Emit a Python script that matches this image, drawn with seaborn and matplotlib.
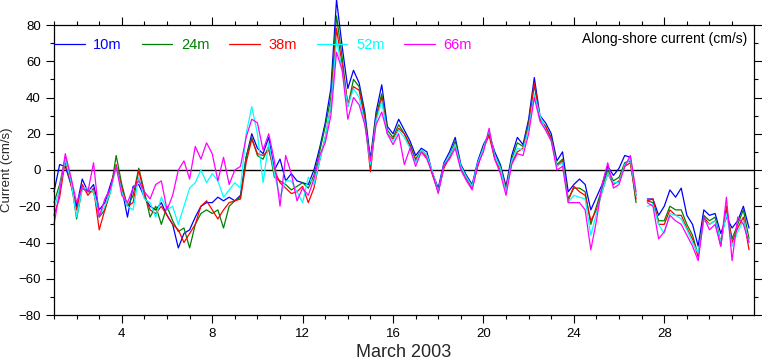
import numpy as np
import pandas as pd
import matplotlib
matplotlib.use("Agg")
import matplotlib.pyplot as plt
from matplotlib.ticker import MultipleLocator
import seaborn as sns

# time axis: day of March 2003, every 6 hours
days = [1 + 0.25 * i for i in range(124)]
N = np.nan

c10m = [-12, 3, 2, -8, -20, -5, -12, -8, -22, -18, -8, 2, -10, -26, -9, -8,
        -15, -20, -22, -18, -25, -30, -43, -35, -33, -26, -20, -18, -18, -15, -17, -15,
        -17, -14, 7, 20, 12, 9, 18, 0, 6, -6, -2, -6, -7, -8, 0, 12,
        26, 45, 94, 68, 45, 55, 48, 32, 6, 32, 47, 24, 20, 28, 22, 16,
        8, 12, 10, -2, -10, 4, 10, 18, 3, -3, -8, 5, 14, 20, 10, 3,
        -9, 8, 18, 14, 28, 51, 30, 26, 20, 5, 10, -12, -8, -5, -8, -22,
        -15, -8, 2, -3, 1, 8, 7, -14, N, -16, -16, -25, -20, -11, -15, -10,
        -25, -30, -42, -22, -25, -24, -35, -26, -32, -28, -20, -32]

c24m = [-18, -8, 7, -5, -27, -10, -12, -12, -26, -22, -12, 8, -8, -20, -14, 1,
        -12, -26, -20, -30, -20, -28, -34, -32, -43, -30, -24, -22, -24, -22, -32, -20,
        -17, -15, 7, 18, 8, 6, 13, -4, -6, -8, -11, -9, -7, -10, -3, 10,
        24, 40, 85, 62, 35, 50, 46, 30, 4, 30, 42, 22, 18, 25, 20, 14,
        6, 11, 8, -2, -12, 2, 8, 16, 2, -4, -9, 3, 13, 20, 8, 2,
        -11, 6, 15, 13, 26, 47, 28, 24, 18, 3, 6, -16, -10, -10, -12, -30,
        -20, -10, 0, -6, -4, 4, 5, -18, N, -17, -18, -28, -28, -20, -22, -22,
        -30, -36, -47, -25, -28, -26, -40, -22, -38, -30, -22, -38]

c38m = [-25, -15, 5, -8, -22, -8, -14, -10, -33, -22, -10, 3, -10, -20, -18, 0,
        -14, -22, -24, -20, -25, -30, -33, -40, -35, -30, -20, -17, -22, -27, -22, -18,
        -17, -16, 4, 17, 9, 8, 11, 0, -7, -10, -13, -12, -9, -18, -10, 5,
        18, 35, 78, 58, 36, 46, 44, 28, -1, 28, 40, 20, 17, 23, 20, 13,
        5, 10, 7, -3, -12, 1, 7, 14, 1, -5, -10, 2, 12, 19, 6, 0,
        -10, 4, 10, 12, 24, 48, 28, 24, 17, 2, 5, -17, -9, -12, -14, -28,
        -22, -12, -2, -8, -6, 2, 4, -16, N, -17, -16, -30, -30, -22, -25, -25,
        -32, -38, -48, -26, -30, -28, -42, -20, -40, -32, -26, -44]

c52m = [-22, -10, 6, -6, -26, -10, -10, -12, -25, -20, -12, 2, -12, -20, -22, -4,
        -16, -18, -26, -15, -22, -20, -30, -20, -10, -7, 0, -7, -2, -6, -15, -11,
        -7, -10, 20, 35, 20, -7, 15, -2, -15, -6, -6, -12, -18, -4, -8, 5,
        18, 35, 72, 55, 35, 45, 40, 26, 3, 27, 38, 20, 16, 22, 18, 12,
        4, 11, 8, -1, -12, 3, 8, 14, 2, -4, -9, 4, 12, 22, 8, 1,
        -12, 5, 12, 11, 23, 42, 30, 22, 16, 2, 4, -18, -14, -15, -16, -36,
        -24, -12, -2, -7, -7, 3, 6, -14, N, -20, -19, -30, -35, -24, -25, -27,
        -33, -40, -46, -28, -30, -28, -40, -24, -42, -34, -28, -40]

c66m = [-30, -12, 9, -4, -18, -10, -12, 4, -26, -16, -10, 2, -14, -18, -10, -6,
        -12, -16, -8, -6, -22, -14, 0, 5, -5, 13, 6, 15, 9, -6, 7, -8,
        0, 2, 18, 28, 26, 11, 20, 5, -20, 8, -2, -17, -10, -14, -5, 8,
        15, 30, 65, 55, 28, 40, 36, 25, 5, 25, 32, 20, 14, 20, 3, 12,
        2, 10, 6, -2, -13, 3, 6, 12, 0, -6, -11, 3, 10, 23, 6, -2,
        -14, 3, 9, 8, 20, 40, 27, 22, 16, 0, 2, -18, -18, -18, -22, -44,
        -28, -8, 4, -10, -8, 2, 8, -12, N, -18, -20, -38, -34, -25, -28, -30,
        -36, -42, -50, -26, -33, -30, -42, -15, -50, -26, -30, -40]

depths = ["10m", "24m", "38m", "52m", "66m"]
series = [c10m, c24m, c38m, c52m, c66m]
colors = ["#0000ff", "#008000", "#ff0000", "#00ffff", "#ff00ff"]

frames = []
for name, vals in zip(depths, series):
    v = np.array(vals, dtype=float)
    d = np.array(days)
    seg = np.cumsum(np.isnan(v))
    df = pd.DataFrame({"day": d, "value": v, "depth": name, "seg": seg})
    frames.append(df.dropna())
data = pd.concat(frames, ignore_index=True)

sns.set_style("ticks")
plt.rcParams["font.family"] = ["Liberation Sans", "DejaVu Sans"]

fig = plt.figure(figsize=(7.62, 3.61), dpi=100)
ax = fig.add_axes([54 / 762, 1 - 315 / 361, 700 / 762, 290 / 361])

ax.axhline(0, color="black", lw=1.0, zorder=1)
sns.lineplot(data=data, x="day", y="value", hue="depth", units="seg",
             estimator=None, palette=dict(zip(depths, colors)),
             hue_order=depths, lw=0.9, ax=ax, legend=True, zorder=2)
for ln in ax.get_lines():
    ln.set_clip_on(False)

ax.set_xlim(1, 31.97)
ax.set_ylim(-80, 80)
ax.xaxis.set_major_locator(MultipleLocator(4))
ax.xaxis.set_minor_locator(MultipleLocator(1))
ax.yaxis.set_major_locator(MultipleLocator(20))
ax.yaxis.set_minor_locator(MultipleLocator(10))
ax.tick_params(which="both", direction="out", top=True, right=True,
               labeltop=False, labelright=False, colors="black",
               labelsize=9.5, width=0.8)
ax.tick_params(which="major", length=6)
ax.tick_params(which="minor", length=3)
for s in ax.spines.values():
    s.set_visible(True)
    s.set_color("black")
    s.set_linewidth(0.9)

ax.set_xlabel("March 2003", fontsize=13, labelpad=3)
ax.set_ylabel("Current (cm/s)", fontsize=9.5, labelpad=4)

handles, labels = ax.get_legend_handles_labels()
leg = ax.legend(handles, labels, ncol=5, loc="center left",
                bbox_to_anchor=(0.0, 0.931), frameon=False, borderpad=0,
                borderaxespad=0, handlelength=2.1, handletextpad=0.6,
                columnspacing=1.35, fontsize=10.5, labelcolor="linecolor")
for h in leg.get_lines():
    h.set_linewidth(0.9)

ax.text(0.99, 0.952, "Along-shore current (cm/s)", transform=ax.transAxes,
        ha="right", va="center", fontsize=10, color="black")

fig.savefig("out.png", dpi=100)
